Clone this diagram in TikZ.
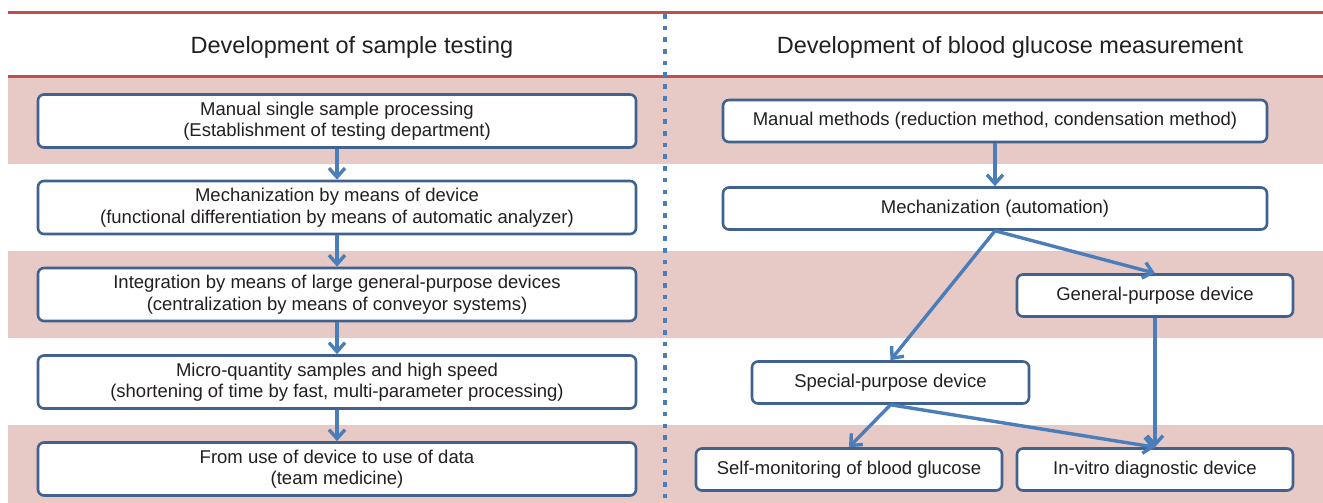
\documentclass[tikz,border=0pt]{standalone}
\usepackage{fontspec}
\setmainfont{Liberation Sans}
\usetikzlibrary{arrows.meta}
\definecolor{bandpink}{HTML}{E7C9C5}
\definecolor{redline}{HTML}{C0504D}
\definecolor{arrowblue}{HTML}{4A7EBB}
\definecolor{boxblue}{HTML}{41628F}
\definecolor{txt}{HTML}{231F20}
\begin{document}
\begin{tikzpicture}[x=1pt,y=-1pt,
  box/.style={draw=boxblue, line width=2.6pt, rounded corners=6pt, fill=white,
    align=center, text=txt, font=\fontsize{18.5}{21.5}\selectfont, inner sep=0pt},
  lbox/.style={box, minimum width=598pt, minimum height=53pt},
  rbox/.style={box, minimum height=42pt},
  header/.style={text=txt, font=\fontsize{23.5}{28}\selectfont, inner sep=0pt},
  arr/.style={draw=arrowblue, line width=3.4pt, -{Straight Barb[length=9pt,width=16pt]}},
  band/.style={fill=bandpink, draw=none},
  rule/.style={draw=redline, line width=3pt}]
\useasboundingbox (0,0) rectangle (1323,503);
\fill[white] (0,0) rectangle (1323,503);
% bands
\path[band] (8,77) rectangle (1323,163.5);
\path[band] (8,250.5) rectangle (1323,337.5);
\path[band] (8,424.5) rectangle (1323,503);
% rules
\draw[rule] (8,13) -- (1323,13);
\draw[rule] (8,77) -- (1323,77);
% divider
\draw[arrowblue, line width=4.6pt, dash pattern=on 4.6pt off 7.1pt] (665,14) -- (665,503);
% headers
\node[header] (h1) at (352,47) {Development of sample testing};
\node[header] (h2) at (1010,47) {Development of blood glucose measurement};
% left column
\node[lbox] (l1) at (337,121) {Manual single sample processing\\(Establishment of testing department)};
\node[lbox] (l2) at (337,207.5) {Mechanization by means of device\\(functional differentiation by means of automatic analyzer)};
\node[lbox] (l3) at (337,294.5) {Integration by means of large general-purpose devices\\(centralization by means of conveyor systems)};
\node[lbox] (l4) at (337,382) {Micro-quantity samples and high speed\\(shortening of time by fast, multi-parameter processing)};
\node[lbox] (l5) at (337,469) {From use of device to use of data\\(team medicine)};
\draw[arr] (l1.south) -- (l2.north);
\draw[arr] (l2.south) -- (l3.north);
\draw[arr] (l3.south) -- (l4.north);
\draw[arr] (l4.south) -- (l5.north);
% right column
\node[rbox, minimum width=544pt] (r1) at (995,121) {Manual methods (reduction method, condensation method)};
\node[rbox, minimum width=544pt] (r2) at (995,208.5) {Mechanization (automation)};
\node[rbox, minimum width=276pt] (r3) at (1155,295.5) {General-purpose device};
\node[rbox, minimum width=277pt] (r4) at (890.5,382.5) {Special-purpose device};
\node[rbox, minimum width=306pt] (r5) at (849,469.5) {Self-monitoring of blood glucose};
\node[rbox, minimum width=276pt] (r6) at (1155,469.5) {In-vitro diagnostic device};
\draw[arr] (r1.south) -- (r2.north);
\draw[arr] (r2.south) -- (r3.north);
\draw[arr] (r2.south) -- (r4.north);
\draw[arr] (r3.south) -- (r6.north);
\draw[arr] (r4.south) -- (r5.north);
\draw[arr] (r4.south) -- (r6.north);
\end{tikzpicture}
\end{document}
